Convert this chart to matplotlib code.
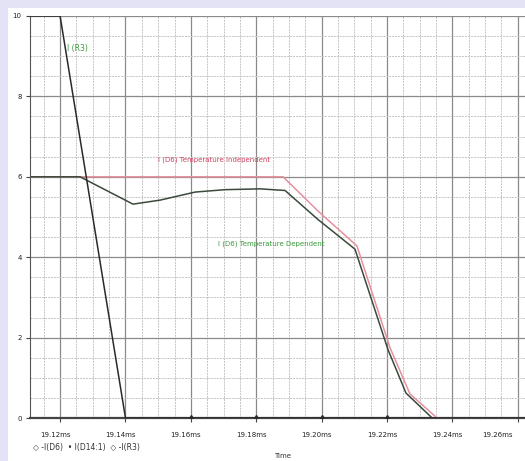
import matplotlib.pyplot as plt
from matplotlib.patches import Rectangle
from matplotlib.ticker import MultipleLocator
from matplotlib.transforms import ScaledTranslation

# time axis in ms
t_r3 = [19.11, 19.12, 19.14, 19.16, 19.18, 19.20, 19.22, 19.262]
i_r3 = [10.0, 10.0, 0.0, 0.0, 0.0, 0.0, 0.0, 0.0]

t_indep = [19.11, 19.1882, 19.1990, 19.2108, 19.2209, 19.2270, 19.2353, 19.262]
i_indep = [6.0, 6.0, 5.14, 4.28, 1.75, 0.60, 0.0, 0.0]

t_dep = [19.11, 19.1261, 19.1423, 19.1506, 19.1613, 19.1705, 19.1812, 19.1888,
         19.1990, 19.2102, 19.2203, 19.2258, 19.2338, 19.262]
i_dep = [6.0, 6.0, 5.32, 5.42, 5.62, 5.68, 5.70, 5.66,
         4.93, 4.20, 1.70, 0.62, 0.0, 0.0]

x_ticks = [19.12, 19.14, 19.16, 19.18, 19.20, 19.22, 19.24, 19.26]
x_labels = ["19.12ms", "19.14ms", "19.16ms", "19.18ms", "19.20ms", "19.22ms", "19.24ms", "19.26ms"]
y_ticks = [0, 2, 4, 6, 8, 10]

fig = plt.figure(figsize=(5.25, 4.61), dpi=100)
fig.patch.set_facecolor("#e3e3f5")
fig.patches.append(Rectangle((8 / 525, 0), 1, 453 / 461, transform=fig.transFigure,
                             facecolor="white", edgecolor="none", zorder=-5))

ax = fig.add_axes([30 / 525, 1 - 418 / 461, 495 / 525, 402 / 461])
ax.set_zorder(2)
ax.set_facecolor("white")

ax.set_xlim(19.1108, 19.2622)
ax.set_ylim(0, 10)
ax.set_xticks(x_ticks)
ax.set_xticklabels(x_labels)
ax.set_yticks(y_ticks)
ax.xaxis.set_minor_locator(MultipleLocator(0.005))
ax.yaxis.set_minor_locator(MultipleLocator(0.5))

ax.grid(which="major", color="#8a8a8a", linewidth=0.9)
ax.grid(which="minor", color="#c4c4c4", linewidth=0.7, linestyle=(0, (2, 1)))
ax.set_axisbelow(True)

ax.tick_params(axis="both", which="major", labelsize=5, length=3, color="#444444",
               labelcolor="#222222", pad=7)
ax.tick_params(axis="y", pad=3)
ax.tick_params(which="minor", length=0)

# x labels sit a little left of their ticks
shift = ScaledTranslation(-5 / 100, 0, fig.dpi_scale_trans)
for lbl in ax.get_xticklabels():
    lbl.set_transform(lbl.get_transform() + shift)
ax.get_xticklabels()[-1].set_horizontalalignment("right")

for side in ["top", "right"]:
    ax.spines[side].set_visible(False)
ax.spines["left"].set_color("#555555")
ax.spines["bottom"].set_color("#444444")
ax.spines["bottom"].set_linewidth(1.6)

ax.plot(t_indep, i_indep, color="#e6909e", linewidth=1.1, zorder=3)
ax.plot(t_dep, i_dep, color="#3b4a3c", linewidth=1.1, zorder=4)
ax.plot(t_r3, i_r3, color="#2a2a2a", linewidth=1.1, zorder=5,
        marker="d", markersize=3, markevery=[3, 4, 5, 6])

ax.text(19.1222, 9.2, "I (R3)", color="#3a9a3a", fontsize=5.5, va="center")
ax.text(19.150, 6.42, "I (D6) Temperature Independent", color="#d04060", fontsize=5, va="center")
ax.text(19.1683, 4.33, "I (D6) Temperature Dependent", color="#3a9a3a", fontsize=5, va="center")

fig.text(33 / 525, 1 - 447 / 461, "\u25c7 -I(D6)  \u2022 I(D14:1)  \u25c7 -I(R3)",
         fontsize=5.5, color="#333333", va="center")
fig.text(283 / 525, 1 - 456 / 461, "Time", fontsize=5, color="#333333",
         ha="center", va="center")

fig.savefig("out.png", dpi=100, facecolor=fig.get_facecolor())
